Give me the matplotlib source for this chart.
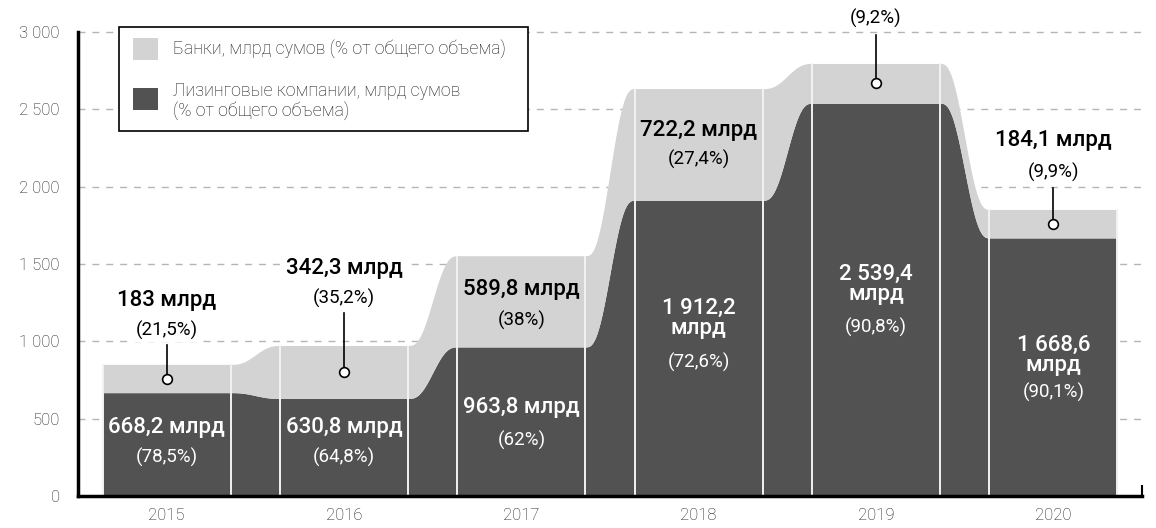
import numpy as np
import matplotlib
matplotlib.use("Agg")
import matplotlib.pyplot as plt
from matplotlib.patches import Rectangle

# ---------------- data ----------------
years = ["2015", "2016", "2017", "2018", "2019", "2020"]
leasing = [668.2, 630.8, 963.8, 1912.2, 2539.4, 1668.6]
banks = [183.0, 342.3, 589.8, 722.2, 257.3, 184.1]
leasing_labels = ["668,2 млрд", "630,8 млрд", "963,8 млрд", "1 912,2\nмлрд", "2 539,4\nмлрд", "1 668,6\nмлрд"]
leasing_pct = ["(78,5%)", "(64,8%)", "(62%)", "(72,6%)", "(90,8%)", "(90,1%)"]
bank_labels = ["183 млрд", "342,3 млрд", "589,8 млрд", "722,2 млрд", "257,3 млрд", "184,1 млрд"]
bank_pct = ["(21,5%)", "(35,2%)", "(38%)", "(27,4%)", "(9,2%)", "(9,9%)"]
yticks = [0, 500, 1000, 1500, 2000, 2500, 3000]
ytick_labels = ["0", "500", "1 000", "1 500", "2 000", "2 500", "3 000"]
legend_labels = ["Банки, млрд сумов (% от общего объема)",
                 "Лизинговые компании, млрд сумов\n(% от общего объема)"]

DARK = "#525252"
LIGHT = "#d3d3d3"
FONT = ["Roboto", "DejaVu Sans"]
plt.rcParams["font.family"] = FONT

W, H = 1156, 528
fig = plt.figure(figsize=(W / 100, H / 100), dpi=100)
ax = fig.add_axes([78 / W, 32 / H, (1142 - 78) / W, 1 - 32 / H])
ax.set_xlim(-0.5, 5.5)
ax.set_ylim(0, 3207)

# ------------- smooth stepped area -------------
hw = 0.36
lease = np.array(leasing)
total = lease + np.array(banks)


def smooth(t):
    return t * t * t * (t * (t * 6 - 15) + 10)


xs, ly, ty = [], [], []
n = len(years)
for i in range(n):
    xf = np.linspace(i - hw, i + hw, 20)
    xs.append(xf); ly.append(np.full_like(xf, lease[i])); ty.append(np.full_like(xf, total[i]))
    if i < n - 1:
        xt = np.linspace(i + hw, i + 1 - hw, 80)
        s = smooth((xt - xt[0]) / (xt[-1] - xt[0]))
        xs.append(xt)
        ly.append(lease[i] + (lease[i + 1] - lease[i]) * s)
        ty.append(total[i] + (total[i + 1] - total[i]) * s)
xs = np.concatenate(xs); ly = np.concatenate(ly); ty = np.concatenate(ty)

ax.fill_between(xs, 0, ly, color=DARK, lw=0, zorder=2)
ax.fill_between(xs, ly, ty, color=LIGHT, lw=0, zorder=2)

# white separators at bar edges
for i in range(n):
    ax.vlines([i - hw, i + hw], 0, total[i], color="#f2f2f2", lw=1.4, zorder=3)

# grid
ax.hlines(yticks[1:], -0.5, 5.5, color="#b5b5b5", lw=1, linestyles=(0, (5, 5)), zorder=0)

# axes styling
for s in ["top", "right"]:
    ax.spines[s].set_visible(False)
ax.spines["left"].set_bounds(0, 3000)
ax.spines["left"].set_linewidth(2.5)
ax.spines["bottom"].set_linewidth(2.5)
ax.spines["left"].set_zorder(5)
ax.spines["bottom"].set_zorder(5)
ax.set_yticks(yticks)
ax.set_yticklabels(ytick_labels, fontsize=12, color="#1a1a1a", fontweight="light")
ax.tick_params(axis="y", length=0, pad=13)
ax.set_xticks(range(n))
ax.set_xticklabels(years, fontsize=12, color="#1a1a1a", fontweight="light")
ax.tick_params(axis="x", which="major", length=0, pad=9)
ax.set_xticks([i + 0.5 for i in range(n)], minor=True)
ax.tick_params(axis="x", which="minor", direction="in", length=8, width=1.5, color="black")

# ------------- labels -------------
big = 16
small = 13.5
bb = dict(facecolor="white", edgecolor="none", pad=2)

# leasing labels (white, inside dark)
lease_pos = [(440, 252), (440, 252), (569, 362), (1150, 866), (1370, 1092), (910, 672)]
for i in range(n):
    yl, yp = lease_pos[i]
    ax.text(i, yl, leasing_labels[i], ha="center", va="center", color="white",
            fontsize=big, fontweight="medium", linespacing=0.95, zorder=6)
    ax.text(i, yp, leasing_pct[i], ha="center", va="center", color="white",
            fontsize=small, zorder=6)

# bank labels
bank_pos = [(1267, 1073), (1474, 1280), (1332, 1138), (2366, 2178), (3290, 3090), (2301, 2094)]
with_marker = {0: 976, 1: 1183, 4: 2980, 5: 1991}
for i in range(n):
    yl, yp = bank_pos[i]
    kw = dict(bbox=bb) if i in with_marker else {}
    ax.text(i, yl, bank_labels[i], ha="center", va="center", color="black",
            fontsize=big, fontweight="medium", zorder=6, clip_on=False, **kw)
    ax.text(i, yp, bank_pct[i], ha="center", va="center", color="black",
            fontsize=small, zorder=6, clip_on=False, **kw)
    if i in with_marker:
        ym = lease[i] + banks[i] / 2
        ax.plot([i, i], [ym, with_marker[i]], color="black", lw=1.2, zorder=6)
        ax.plot(i, ym, "o", ms=7, mfc="white", mec="black", mew=1.2, zorder=7)

# ------------- legend (manual) -------------
def fx(px):
    return px / W


def fy(py):
    return 1 - py / H


fig.patches.append(Rectangle((fx(119), fy(131)), fx(528) - fx(119), fy(27) - fy(131),
                             transform=fig.transFigure, facecolor="white",
                             edgecolor="black", lw=1.2, zorder=10))
fig.patches.append(Rectangle((fx(133), fy(60)), fx(25), 22 / H, transform=fig.transFigure,
                             facecolor=LIGHT, edgecolor="none", zorder=11))
fig.patches.append(Rectangle((fx(133), fy(110)), fx(25), 22 / H, transform=fig.transFigure,
                             facecolor=DARK, edgecolor="none", zorder=11))
fig.text(fx(173), fy(49), legend_labels[0], ha="left", va="center", fontsize=12.8,
         fontweight="light", color="#1a1a1a", zorder=12)
fig.text(fx(173), fy(101), legend_labels[1], ha="left", va="center", fontsize=12.8,
         fontweight="light", color="#1a1a1a", linespacing=1.05, zorder=12)

fig.savefig("out.png", dpi=100)
